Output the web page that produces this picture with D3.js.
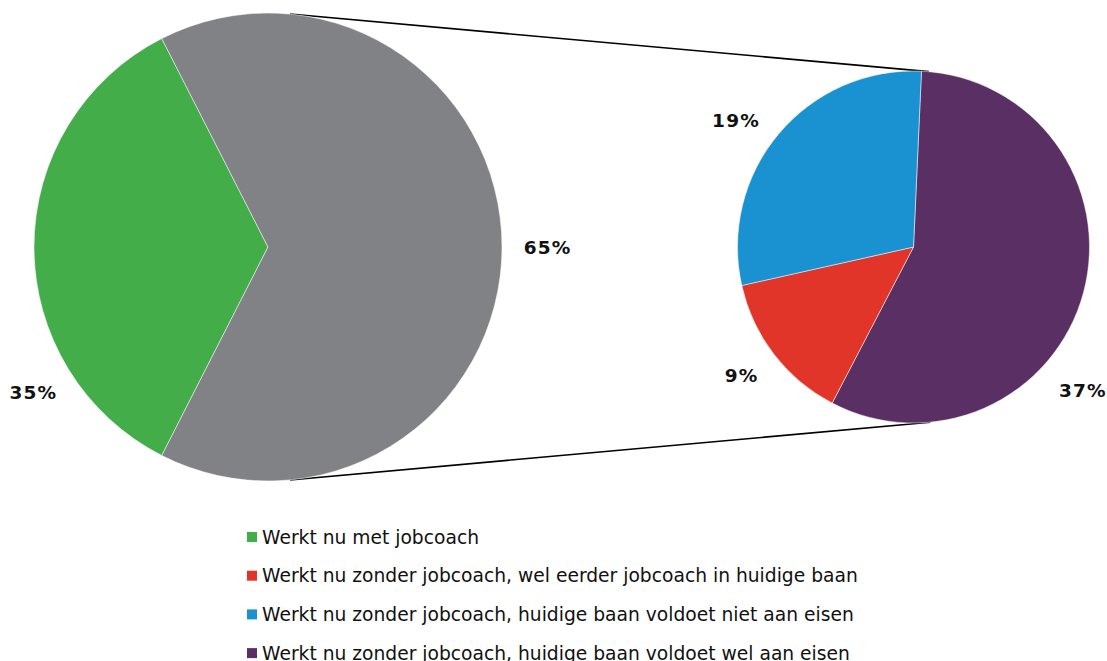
<!DOCTYPE html>
<html>
<head>
<meta charset="utf-8">
<script src="https://cdn.jsdelivr.net/npm/d3@7"></script>
<style>
  body { margin: 0; background: #fff; }
  text { font-family: "DejaVu Sans", Verdana, sans-serif; }
</style>
</head>
<body>
<div id="visualization"></div>
<script>
// Data: main pie and the split-out pie (share of all respondents, %)
const mainLabels = ["Werkt nu met jobcoach", "Werkt nu zonder jobcoach"];
const mainValues = [35, 65];
const subLabels = [
  "Werkt nu zonder jobcoach, huidige baan voldoet wel aan eisen",
  "Werkt nu zonder jobcoach, wel eerder jobcoach in huidige baan",
  "Werkt nu zonder jobcoach, huidige baan voldoet niet aan eisen"
];
const subValues = [37, 9, 19];
const legendLabels = [
  "Werkt nu met jobcoach",
  "Werkt nu zonder jobcoach, wel eerder jobcoach in huidige baan",
  "Werkt nu zonder jobcoach, huidige baan voldoet niet aan eisen",
  "Werkt nu zonder jobcoach, huidige baan voldoet wel aan eisen"
];

const width = 1107;
const height = 661;

const colors = {
  "Werkt nu met jobcoach": "#43ad4a",
  "Werkt nu zonder jobcoach": "#808285",
  "Werkt nu zonder jobcoach, wel eerder jobcoach in huidige baan": "#e1352a",
  "Werkt nu zonder jobcoach, huidige baan voldoet niet aan eisen": "#1a91d1",
  "Werkt nu zonder jobcoach, huidige baan voldoet wel aan eisen": "#5a3064"
};

const svg = d3
  .select("#visualization")
  .append("svg")
  .attr("width", width)
  .attr("height", height);

const deg = Math.PI / 180;

// Left pie
const left = { cx: 268, cy: 247, r: 234 };
// green centred on the left side
const mainStart = (270 - (mainValues[0] / 100) * 180) * deg;
const mainPie = d3.pie().sort(null)
  .startAngle(mainStart)
  .endAngle(mainStart + 2 * Math.PI);
const mainArcs = mainPie(mainValues);
const arcL = d3.arc().innerRadius(0).outerRadius(left.r);

// Right pie
const right = { cx: 913.5, cy: 247, r: 176 };
const subStart = 2.6 * deg;
const subPie = d3.pie().sort(null)
  .startAngle(subStart)
  .endAngle(subStart + 2 * Math.PI);
const subArcs = subPie(subValues);
const arcR = d3.arc().innerRadius(0).outerRadius(right.r);

// Connector lines
const pt = (c, a) => [c.cx + c.r * Math.sin(a * deg), c.cy - c.r * Math.cos(a * deg)];
const connectors = [
  [pt(left, 5.4), pt(right, 5)],
  [pt(left, 174.6), pt(right, 174.5)]
];
svg.selectAll("line.conn")
  .data(connectors)
  .enter()
  .append("line")
  .attr("class", "conn")
  .attr("x1", (d) => d[0][0])
  .attr("y1", (d) => d[0][1])
  .attr("x2", (d) => d[1][0])
  .attr("y2", (d) => d[1][1])
  .attr("stroke", "#000")
  .attr("stroke-width", 1.6);

const gL = svg.append("g").attr("transform", `translate(${left.cx},${left.cy})`);
gL.selectAll("path")
  .data(mainArcs)
  .enter()
  .append("path")
  .attr("d", arcL)
  .attr("fill", (d, i) => colors[mainLabels[i]])
  .attr("stroke", "#fff")
  .attr("stroke-width", 0.5);

const gR = svg.append("g").attr("transform", `translate(${right.cx},${right.cy})`);
gR.selectAll("path")
  .data(subArcs)
  .enter()
  .append("path")
  .attr("d", arcR)
  .attr("fill", (d, i) => colors[subLabels[i]])
  .attr("stroke", "#fff")
  .attr("stroke-width", 0.5);

// Data labels (Excel "best fit" placement: angle in degrees, radius factor)
const mainLabelPos = [[238.2, 1.18], [90, 1.195]];
const subLabelPos = [[130.2, 1.26], [233.2, 1.22], [305.6, 1.24]];

function addLabels(g, c, values, pos) {
  g.selectAll("text.lbl")
    .data(values)
    .enter()
    .append("text")
    .attr("class", "lbl")
    .attr("x", (d, i) => c.r * pos[i][1] * Math.sin(pos[i][0] * deg))
    .attr("y", (d, i) => -c.r * pos[i][1] * Math.cos(pos[i][0] * deg))
    .attr("dy", "0.36em")
    .attr("text-anchor", "middle")
    .attr("font-size", "18.5px")
    .attr("font-weight", "bold")
    .attr("letter-spacing", "1.2px")
    .attr("fill", "#111")
    .text((d) => d + "%");
}
addLabels(gL, left, mainValues, mainLabelPos);
addLabels(gR, right, subValues, subLabelPos);

// Legend
const legend = svg.append("g").attr("transform", "translate(247,537)");
const rows = legend.selectAll("g")
  .data(legendLabels)
  .enter()
  .append("g")
  .attr("transform", (d, i) => `translate(0,${i * 38.7})`);
rows.append("rect")
  .attr("x", 0)
  .attr("y", -5)
  .attr("width", 10)
  .attr("height", 10)
  .attr("fill", (d) => colors[d]);
rows.append("text")
  .attr("x", 15)
  .attr("dy", "0.36em")
  .attr("font-size", "18.7px")
  .attr("fill", "#111")
  .text((d) => d);
</script>
</body>
</html>
